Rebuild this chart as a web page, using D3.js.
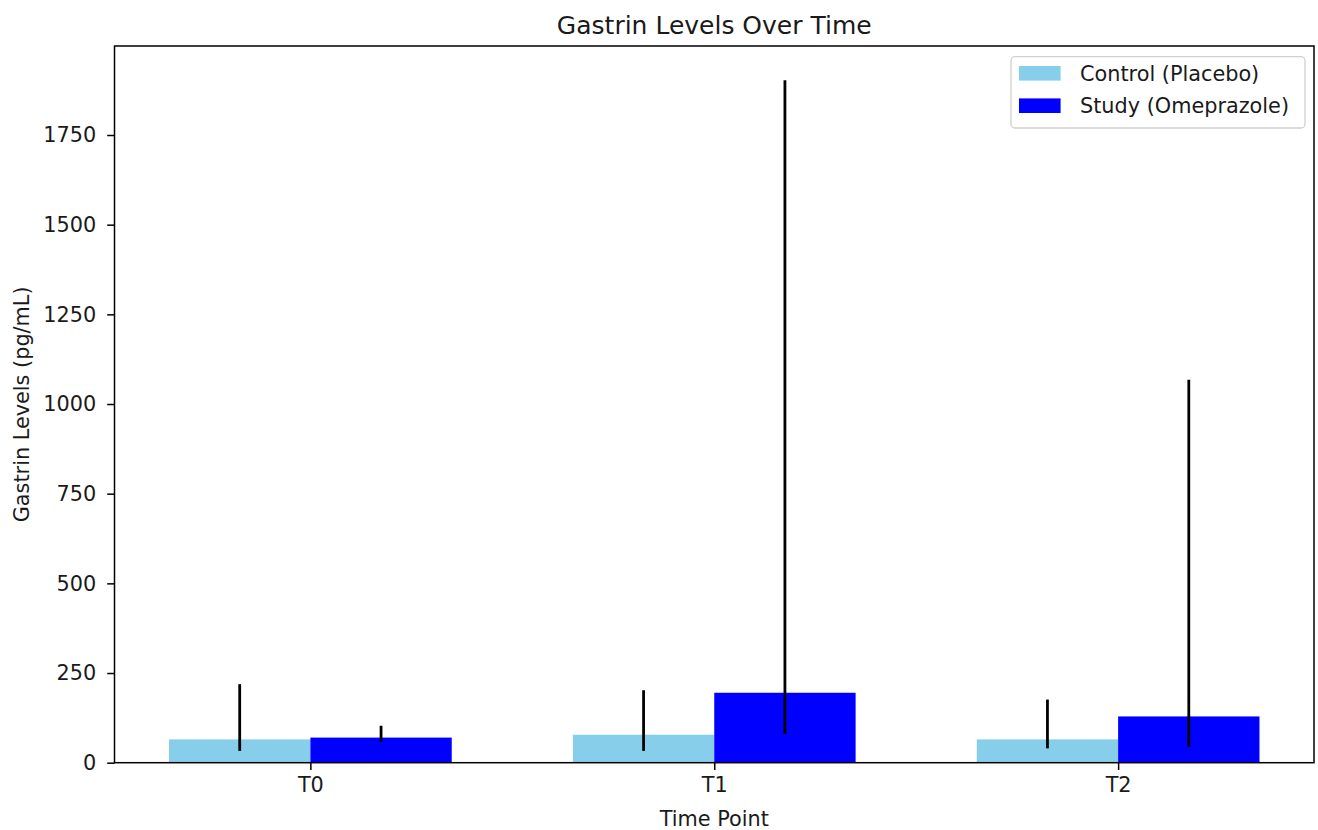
<!DOCTYPE html>
<html>
<head>
<meta charset="utf-8">
<script src="https://cdn.jsdelivr.net/npm/d3@7"></script>
<style>
  html, body { margin: 0; padding: 0; background: #fff; }
  svg { display: block; font-family: "DejaVu Sans", sans-serif; }
</style>
</head>
<body>
<svg id="chart" width="1318" height="830"></svg>
<script>
const timePoints = ["T0", "T1", "T2"];
const seriesNames = ["Control (Placebo)", "Study (Omeprazole)"];
const controlMean = [65, 78, 65];
const studyMean = [70, 195, 129];
const controlLow = [33, 33, 40];
const controlHigh = [219, 202, 176];
const studyLow = [58, 80, 44];
const studyHigh = [103, 1903, 1068];
const yTicks = [0, 250, 500, 750, 1000, 1250, 1500, 1750];

const colors = ["#87CEEB", "#0000FF"];
const barW = 0.35;
const W = 1318, H = 830;
const m = { left: 114.5, right: 1314, top: 46, bottom: 762.7 };
const fs = 20.8;

const svg = d3.select("#chart");

const series = [
  { name: seriesNames[0], mean: controlMean, lo: controlLow, hi: controlHigh, off: -barW, color: colors[0] },
  { name: seriesNames[1], mean: studyMean, lo: studyLow, hi: studyHigh, off: 0, color: colors[1] }
];

const xMin = -barW, xMax = timePoints.length - 1 + barW;
const xPad = (xMax - xMin) * 0.05;
const x = d3.scaleLinear().domain([xMin - xPad, xMax + xPad]).range([m.left, m.right]);
const yMaxData = d3.max([...studyHigh, ...controlHigh]);
const y = d3.scaleLinear().domain([0, yMaxData * 1.05]).range([m.bottom, m.top]);

// bars
series.forEach(s => {
  svg.append("g").selectAll("rect").data(timePoints).join("rect")
    .attr("x", (d, i) => x(i + s.off))
    .attr("width", (d, i) => x(i + s.off + barW) - x(i + s.off))
    .attr("y", (d, i) => y(s.mean[i]))
    .attr("height", (d, i) => y(0) - y(s.mean[i]))
    .attr("fill", s.color);
});
// error bars
series.forEach(s => {
  svg.append("g").selectAll("line").data(timePoints).join("line")
    .attr("x1", (d, i) => x(i + s.off + barW / 2))
    .attr("x2", (d, i) => x(i + s.off + barW / 2))
    .attr("y1", (d, i) => y(s.lo[i]))
    .attr("y2", (d, i) => y(s.hi[i]))
    .attr("stroke", "#000").attr("stroke-width", 2.8);
});

// axes
const yAxis = d3.axisLeft(y).tickValues(yTicks).tickSize(7.3).tickPadding(11).tickFormat(d3.format("d"));
const gy = svg.append("g").attr("transform", `translate(${m.left},0)`).call(yAxis);
gy.select(".domain").remove();
gy.selectAll("line").attr("stroke", "#000").attr("stroke-width", 1.5);
gy.selectAll("text").attr("font-size", fs).attr("fill", "#1a1a1a").attr("font-family", "DejaVu Sans");

const xAxis = d3.axisBottom(x).tickValues(d3.range(timePoints.length)).tickSize(7.3).tickPadding(7.5)
  .tickFormat(i => timePoints[i]);
const gx = svg.append("g").attr("transform", `translate(0,${m.bottom})`).call(xAxis);
gx.select(".domain").remove();
gx.selectAll("line").attr("stroke", "#000").attr("stroke-width", 1.5);
gx.selectAll("text").attr("font-size", fs).attr("fill", "#1a1a1a").attr("font-family", "DejaVu Sans");

// frame
svg.append("rect").attr("x", m.left).attr("y", m.top)
  .attr("width", m.right - m.left).attr("height", m.bottom - m.top)
  .attr("fill", "none").attr("stroke", "#000").attr("stroke-width", 1.5);

// title & labels
svg.append("text").attr("x", (m.left + m.right) / 2).attr("y", 33.5)
  .attr("text-anchor", "middle").attr("font-size", 25).attr("fill", "#1a1a1a")
  .text("Gastrin Levels Over Time");
svg.append("text").attr("x", (m.left + m.right) / 2).attr("y", 826)
  .attr("text-anchor", "middle").attr("font-size", fs).attr("fill", "#1a1a1a")
  .text("Time Point");
svg.append("text").attr("transform", `translate(28.5,${(m.top + m.bottom) / 2}) rotate(-90)`)
  .attr("text-anchor", "middle").attr("font-size", fs).attr("fill", "#1a1a1a")
  .text("Gastrin Levels (pg/mL)");

// legend
const lg = svg.append("g");
lg.append("rect").attr("x", 1011).attr("y", 56.7).attr("width", 294).attr("height", 71.3)
  .attr("rx", 4).attr("fill", "#fff").attr("fill-opacity", 0.8)
  .attr("stroke", "#d0d0d0").attr("stroke-width", 1.3);
series.forEach((s, k) => {
  const cy = 73.3 + k * 32.4;
  lg.append("rect").attr("x", 1019).attr("y", cy - 7.3).attr("width", 41.6).attr("height", 14.6)
    .attr("fill", s.color);
  lg.append("text").attr("x", 1080).attr("y", cy + 7.5).attr("font-size", fs).attr("fill", "#1a1a1a")
    .text(s.name);
});
</script>
</body>
</html>
